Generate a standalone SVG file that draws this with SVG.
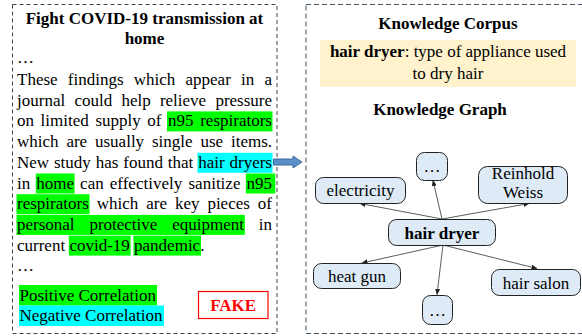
<svg xmlns="http://www.w3.org/2000/svg" width="582" height="336" viewBox="0 0 582 336">
<style>
text{font-family:"Liberation Serif","Times New Roman","DejaVu Serif",serif;font-size:17px;fill:#000}
.b{font-weight:bold}
.m{text-anchor:middle}
.g{fill:#00FF00}
.c{fill:#00FFFF}
.node rect{fill:#DEEBF7;stroke:#222;stroke-width:1}
.edge{stroke:#333;stroke-width:0.8;fill:none;marker-end:url(#ah)}
</style>
<defs>
<marker id="ah" markerUnits="userSpaceOnUse" markerWidth="6" markerHeight="5" refX="5.5" refY="2.5" orient="auto">
<path d="M0,0 L6,2.5 L0,5 z" fill="#222"/>
</marker>
</defs>
<rect width="582" height="336" fill="#fff"/>

<g id="news-panel">
<rect x="12.5" y="4.5" width="264.5" height="329" fill="none" stroke="#444" stroke-width="1" stroke-dasharray="4 3"/>
<text class="b m" x="144.5" y="24">Fight COVID-19 transmission at</text>
<text class="b m" x="144.5" y="43.5">home</text>
<text x="17" y="62.5">…</text>
<rect class="g" x="167" y="111.4" width="105.5" height="20"/>
<rect class="c" x="197.5" y="152.8" width="75" height="20"/>
<rect class="g" x="35.8" y="173.5" width="38.8" height="20"/>
<rect class="g" x="245.8" y="173.5" width="29.5" height="20"/>
<rect class="g" x="16.5" y="194.2" width="73" height="20"/>
<rect class="g" x="16.5" y="214.9" width="228.3" height="20"/>
<rect class="g" x="68.8" y="235.6" width="61.8" height="20"/>
<rect class="g" x="133.5" y="235.6" width="67.5" height="20"/>
<text y="85"><tspan x="17">These</tspan> <tspan x="67.8">findings</tspan> <tspan x="133.7">which</tspan> <tspan x="185.5">appear</tspan> <tspan x="241">in</tspan> <tspan x="264.5">a</tspan></text>
<text y="105.7"><tspan x="17">journal</tspan> <tspan x="74.4">could</tspan> <tspan x="121.4">help</tspan> <tspan x="159.9">relieve</tspan> <tspan x="215.4">pressure</tspan></text>
<text y="126.4"><tspan x="17">on</tspan> <tspan x="40.6">limited</tspan> <tspan x="95.4">supply</tspan> <tspan x="147.3">of</tspan> <tspan x="168.1">n95</tspan> <tspan x="200.2">respirators</tspan></text>
<text y="147.1"><tspan x="17">which</tspan> <tspan x="66.4">are</tspan> <tspan x="95">usually</tspan> <tspan x="152">single</tspan> <tspan x="200.5">use</tspan> <tspan x="231">items.</tspan></text>
<text y="167.8"><tspan x="17">New</tspan> <tspan x="54">study</tspan> <tspan x="95.7">has</tspan> <tspan x="123.3">found</tspan> <tspan x="167.8">that</tspan> <tspan x="198.2">hair</tspan> <tspan x="229.5">dryers</tspan></text>
<text y="188.5"><tspan x="17">in</tspan> <tspan x="36.3">home</tspan> <tspan x="80.1">can</tspan> <tspan x="109.8">effectively</tspan> <tspan x="188.5">sanitize</tspan> <tspan x="246.5">n95</tspan></text>
<text y="209.2"><tspan x="17">respirators</tspan> <tspan x="96.7">which</tspan> <tspan x="146.2">are</tspan> <tspan x="174.9">key</tspan> <tspan x="207.4">pieces</tspan> <tspan x="257.8">of</tspan></text>
<text y="229.9"><tspan x="17">personal</tspan> <tspan x="89.4">protective</tspan> <tspan x="172.2">equipment</tspan> <tspan x="258.8">in</tspan></text>
<text x="17" y="250.6">current covid-19 pandemic.</text>
<text x="17" y="271.3">…</text>
<rect class="g" x="19" y="285" width="138" height="20.5"/>
<rect class="c" x="19" y="305.5" width="145" height="20.5"/>
<text x="19.5" y="300.5">Positive Correlation</text>
<text x="19.5" y="321">Negative Correlation</text>
<rect x="198.5" y="291.5" width="69.5" height="27" fill="#fff" stroke="#FF0000" stroke-width="1.2"/>
<text class="b m" x="233.2" y="310.5" style="fill:#FF0000">FAKE</text>
</g>

<g id="link-arrow">
<path d="M273.5,159 L293,159 L293,156 L302,162 L293,168 L293,165 L273.5,165 z" fill="#5B8FC9" stroke="#3A6A9E" stroke-width="1"/>
</g>

<g id="knowledge-panel">
<rect x="306" y="4.5" width="290" height="329" fill="none" stroke="#44546A" stroke-width="1" stroke-dasharray="5 3"/>
<text class="b m" x="448" y="28.5">Knowledge Corpus</text>
<rect x="320" y="40" width="256" height="47" fill="#FFF2CC"/>
<text class="m" x="448" y="57.3"><tspan class="b">hair dryer</tspan>: type of appliance used</text>
<text class="m" x="448" y="79">to dry hair</text>
<text class="b m" x="440" y="115">Knowledge Graph</text>
</g>

<g id="connectors">
<line class="edge" x1="442" y1="219" x2="360" y2="203.5"/>
<line class="edge" x1="442" y1="219" x2="433" y2="180.5"/>
<line class="edge" x1="442" y1="219" x2="529" y2="203.5"/>
<line class="edge" x1="443" y1="245" x2="362" y2="263"/>
<line class="edge" x1="443" y1="245" x2="437" y2="294.5"/>
<line class="edge" x1="443" y1="245" x2="537" y2="268.5"/>
</g>

<g id="node-dots-top" class="node">
<rect x="416.5" y="152.5" width="31" height="28" rx="8"/>
<text class="m" x="432" y="172">…</text>
</g>
<g id="node-electricity" class="node">
<rect x="315.5" y="177.5" width="90" height="26" rx="8"/>
<text class="m" x="360.5" y="196">electricity</text>
</g>
<g id="node-reinhold-weiss" class="node">
<rect x="478.5" y="166.5" width="89" height="37" rx="9"/>
<text class="m" x="523" y="178.5">Reinhold</text>
<text class="m" x="523" y="197.5">Weiss</text>
</g>
<g id="node-hair-dryer" class="node">
<rect x="388.5" y="219.5" width="107" height="26" rx="8"/>
<text class="b m" x="442" y="238.5">hair dryer</text>
</g>
<g id="node-heat-gun" class="node">
<rect x="313.5" y="263.5" width="87" height="25" rx="8"/>
<text class="m" x="357" y="282">heat gun</text>
</g>
<g id="node-hair-salon" class="node">
<rect x="491.5" y="269.5" width="89" height="26" rx="8"/>
<text class="m" x="536" y="288.5">hair salon</text>
</g>
<g id="node-dots-bottom" class="node">
<rect x="422.5" y="295.5" width="30" height="29" rx="8"/>
<text class="m" x="437.5" y="316">…</text>
</g>
</svg>
